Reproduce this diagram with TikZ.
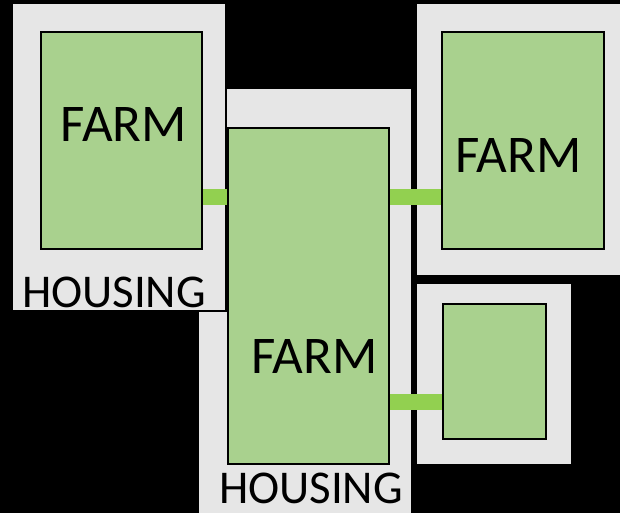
\documentclass[tikz,border=0pt]{standalone}
\usepackage{fontspec}
\setmainfont{Carlito}
\usepackage{xcolor}
\definecolor{farmgreen}{HTML}{A9D18E}
\definecolor{linkgreen}{HTML}{92D050}
\definecolor{housegray}{HTML}{E6E6E6}
\usetikzlibrary{positioning, calc}

\begin{document}
\begin{tikzpicture}[
    x=1pt, y=-1pt,
    housing/.style={rectangle, fill=housegray, draw=black, line width=2.5pt, inner sep=0pt},
    farm/.style={rectangle, fill=farmgreen, draw=black, line width=2pt, inner sep=0pt},
    link/.style={draw=linkgreen, line width=16pt},
    farmlabel/.style={inner sep=0pt, font=\fontsize{53}{60}\selectfont},
    houselabel/.style={inner sep=0pt, font=\fontsize{47}{54}\selectfont},
]
\fill[black] (0,0) rectangle (620,513);
\useasboundingbox (0,0) rectangle (620,513);

% Housings
\node[housing, minimum width=214pt, minimum height=430pt] (h2) at (305,303) {};
\node[housing, minimum width=214pt, minimum height=308pt] (h1) at (119,157) {};
\node[housing, minimum width=210pt, minimum height=273pt] (h3) at (521,139.5) {};
\node[housing, minimum width=156pt, minimum height=182pt] (h4) at (494,374) {};

% Farms
\node[farm, minimum width=161pt, minimum height=217pt] (f1) at (121.5,140.5) {};
\node[farm, minimum width=161pt, minimum height=336pt] (f2) at (308.5,296) {};
\node[farm, minimum width=162pt, minimum height=217pt] (f3) at (523,140.5) {};
\node[farm, minimum width=103pt, minimum height=135pt] (f4) at (494.5,371.5) {};

% Connections between farms
\draw[link] ([yshift=-56.5pt]f1.east) -- ([yshift=-56.5pt]f1.east -| f2.west);
\draw[link] ([yshift=-56.5pt]f3.west -| f2.east) -- ([yshift=-56.5pt]f3.west);
\draw[link] ([yshift=-30.5pt]f4.west -| f2.east) -- ([yshift=-30.5pt]f4.west);

% Labels
\node[farmlabel] (t1) at (124,124.5) {FARM};
\node[farmlabel] (t2) at (314.5,356) {FARM};
\node[farmlabel] (t3) at (518.5,155.5) {FARM};
\node[houselabel] (t4) at (114,292) {HOUSING};
\node[houselabel] (t5) at (311,488.5) {HOUSING};

\end{tikzpicture}
\end{document}
